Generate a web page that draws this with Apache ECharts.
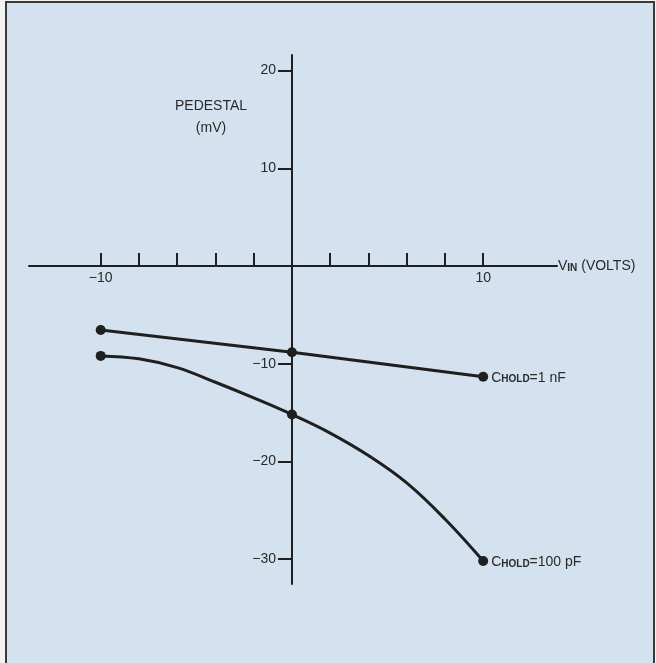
<!DOCTYPE html>
<html><head><meta charset="utf-8">
<script src="https://cdn.jsdelivr.net/npm/echarts@6/dist/echarts.min.js"></script>
<style>html,body{margin:0;padding:0;background:#f3f4f2;} #c{width:656px;height:663px;}</style>
</head><body><div id="c"></div>
<script>
// ---- data ----
const xTickValues = [-10, -8, -6, -4, -2, 2, 4, 6, 8, 10];
const xLabelValues = [-10, 10];
const yTickValues = [20, 10, -10, -20, -30];
const markerX = [-10, 0, 10];
const nF1X = [-10, 0, 10];
const nF1Y = [-6.55, -8.83, -11.33];
const pF100X = [-10, -8, -6, -4, -2, 0, 2, 4, 6, 8, 10];
const pF100Y = [-9.2, -9.5, -10.4, -11.9, -13.5, -15.2, -17.1, -19.4, -22.2, -25.9, -30.2];
const nF1Label = '{c|C}{s|HOLD}{c|=1 nF}';
const pF100Label = '{c|C}{s|HOLD}{c|=100 pF}';

// ---- styling ----
const INK = '#1f1f1f';
const TXT = '#2a2a2a';
const FONT = '"Liberation Sans", Arial, sans-serif';
const fmt = v => (v < 0 ? '\u2212' + Math.abs(v) : String(v));
const rich = {
  c: { fontSize: 14, fontFamily: FONT, color: TXT, lineHeight: 16, verticalAlign: 'bottom' },
  s: { fontSize: 10, fontFamily: FONT, fontWeight: 'bold', color: TXT, lineHeight: 13, verticalAlign: 'bottom' }
};

const GRID = { left: 29, right: 99, top: 55, bottom: 79 };
const W = 656, H = 663;
const X_MIN = -13.75, X_MAX = 13.86, Y_MIN = -32.55, Y_MAX = 21.6;
// axis crossing offsets (axes cross at value 0)
const gridW = W - GRID.left - GRID.right, gridH = H - GRID.top - GRID.bottom;
const xAxisOffset = -gridH * (0 - Y_MIN) / (Y_MAX - Y_MIN);
const yAxisOffset = -gridW * (0 - X_MIN) / (X_MAX - X_MIN);

function pairs(xs, ys) { return xs.map((x, i) => [x, ys[i]]); }
function markers(xs, ys, labelText) {
  const out = [];
  xs.forEach((x, i) => {
    if (markerX.indexOf(x) < 0) return;
    const item = { value: [x, ys[i]] };
    if (x === markerX[markerX.length - 1]) {
      item.label = { show: true, position: 'right', distance: 3, formatter: labelText, rich: rich };
    }
    out.push(item);
  });
  return out;
}

const chart = echarts.init(document.getElementById('c'), null, { renderer: 'canvas' });
chart.setOption({
  backgroundColor: '#f3f4f2',
  animation: false,
  graphic: [
    { type: 'rect', z: -10, silent: true,
      shape: { x: 6, y: 2, width: 648, height: 675 },
      style: { fill: '#d3e2ee', stroke: '#3a3a3a', lineWidth: 2 } },
    { type: 'text', z: 10, x: 211, y: 117,
      style: { text: 'PEDESTAL\n(mV)', textAlign: 'center', textVerticalAlign: 'middle',
        font: '14px ' + FONT, fill: TXT, lineHeight: 22 } }
  ],
  grid: GRID,
  xAxis: {
    type: 'value', min: X_MIN, max: X_MAX, position: 'bottom', offset: xAxisOffset,
    splitLine: { show: false },
    axisLine: { onZero: false, lineStyle: { color: INK, width: 2 } },
    axisTick: { show: true, inside: true, length: 13, customValues: xTickValues,
      lineStyle: { color: INK, width: 2 } },
    axisLabel: { show: true, customValues: xLabelValues, formatter: fmt, margin: 5,
      fontSize: 14, fontFamily: FONT, color: TXT },
    name: 'V{s|IN} (VOLTS)', nameLocation: 'end', nameGap: 1,
    nameTextStyle: { fontSize: 14, fontFamily: FONT, color: TXT, align: 'left', verticalAlign: 'middle',
      rich: { s: { fontSize: 10, fontFamily: FONT, fontWeight: 'bold', color: TXT, lineHeight: 13, verticalAlign: 'bottom' } } }
  },
  yAxis: {
    type: 'value', min: Y_MIN, max: Y_MAX, position: 'left', offset: yAxisOffset,
    splitLine: { show: false },
    axisLine: { onZero: false, lineStyle: { color: INK, width: 2 } },
    axisTick: { show: true, inside: false, length: 14, customValues: yTickValues,
      lineStyle: { color: INK, width: 2 } },
    axisLabel: { show: true, customValues: yTickValues, formatter: fmt, margin: 16,
      fontSize: 14, fontFamily: FONT, color: TXT }
  },
  series: [
    { name: '1 nF', type: 'line', data: pairs(nF1X, nF1Y), smooth: false, showSymbol: false,
      lineStyle: { color: INK, width: 3 }, z: 3 },
    { name: '100 pF', type: 'line', data: pairs(pF100X, pF100Y), smooth: 0.4, showSymbol: false,
      lineStyle: { color: INK, width: 3 }, z: 3 },
    { name: '1 nF pts', type: 'scatter', data: markers(nF1X, nF1Y, nF1Label), symbol: 'circle', symbolSize: 10,
      itemStyle: { color: INK, opacity: 1 }, z: 4 },
    { name: '100 pF pts', type: 'scatter', data: markers(pF100X, pF100Y, pF100Label), symbol: 'circle', symbolSize: 10,
      itemStyle: { color: INK, opacity: 1 }, z: 4 }
  ]
});
</script>
</body></html>
